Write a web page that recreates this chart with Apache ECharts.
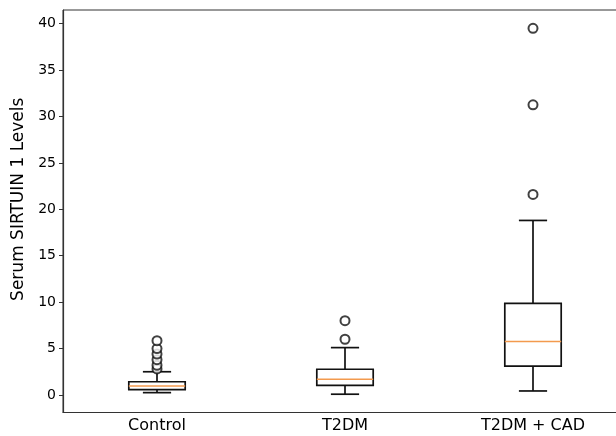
<!DOCTYPE html>
<html>
<head>
<meta charset="utf-8">
<style>html,body{margin:0;padding:0;background:#fff;}#chart{width:616px;height:436px;}</style>
<script src="https://cdn.jsdelivr.net/npm/echarts@6/dist/echarts.min.js"></script>
</head>
<body>
<div id="chart"></div>
<script>
const categories = ['Control', 'T2DM', 'T2DM + CAD'];
const whiskerLow = [0.25, 0.08, 0.43];
const q1 = [0.57, 1.04, 3.1];
const median = [0.97, 1.69, 5.75];
const q3 = [1.42, 2.77, 9.87];
const whiskerHigh = [2.5, 5.1, 18.8];
const outliersControl = [2.8, 3.2, 3.8, 4.4, 5.0, 5.85];
const outliersT2DM = [6.0, 8.0];
const outliersCAD = [21.6, 31.25, 39.5];
const yTicks = [0, 5, 10, 15, 20, 25, 30, 35, 40];

const boxData = categories.map((c, i) => [i, whiskerLow[i], q1[i], median[i], q3[i], whiskerHigh[i]]);
const outlierData = [];
[outliersControl, outliersT2DM, outliersCAD].forEach((arr, i) => arr.forEach(v => outlierData.push([i, v])));

const chart = echarts.init(document.getElementById('chart'), null, {renderer: 'canvas'});
const black = '#111';
chart.setOption({
  animation: false,
  grid: {left: 63, width: 564, top: 10, height: 402.5, show: true, borderColor: '#333', borderWidth: 1, backgroundColor: 'transparent', containLabel: false, outerBoundsMode: 'none'},
  xAxis: {
    type: 'category', data: categories, boundaryGap: true,
    axisLine: {onZero: false, lineStyle: {color: '#333', width: 1.2}},
    axisTick: {alignWithLabel: true, length: 4, lineStyle: {color: '#333'}},
    axisLabel: {color: '#000', fontFamily: 'DejaVu Sans', fontSize: 16, margin: 5}
  },
  yAxis: {
    type: 'value', min: -1.89, max: 41.47,
    name: 'Serum SIRTUIN 1 Levels', nameLocation: 'middle', nameGap: 35, nameRotate: 90,
    nameTextStyle: {color: '#000', fontFamily: 'DejaVu Sans', fontSize: 17, padding: [0, 0, 0, 24]},
    splitLine: {show: false},
    axisLine: {show: true, lineStyle: {color: '#333', width: 1.2}},
    axisTick: {show: true, length: 4, customValues: yTicks, lineStyle: {color: '#333'}},
    axisLabel: {color: '#000', fontFamily: 'DejaVu Sans', fontSize: 14, margin: 7, customValues: yTicks}
  },
  series: [
    {
      type: 'custom',
      data: boxData,
      encode: {x: 0, y: [1, 2, 3, 4, 5]},
      renderItem: function (params, api) {
        const x = api.value(0);
        const band = api.size([1, 0])[0];
        const hb = band * 0.15, hc = band * 0.075;
        const pLow = api.coord([x, api.value(1)]);
        const pQ1 = api.coord([x, api.value(2)]);
        const pMed = api.coord([x, api.value(3)]);
        const pQ3 = api.coord([x, api.value(4)]);
        const pHigh = api.coord([x, api.value(5)]);
        const cx = pMed[0];
        const ls = {stroke: black, lineWidth: 1.7, fill: null};
        return {
          type: 'group',
          children: [
            {type: 'line', shape: {x1: cx, y1: pQ3[1], x2: cx, y2: pHigh[1]}, style: ls},
            {type: 'line', shape: {x1: cx, y1: pQ1[1], x2: cx, y2: pLow[1]}, style: ls},
            {type: 'line', shape: {x1: cx - hc, y1: pHigh[1], x2: cx + hc, y2: pHigh[1]}, style: ls},
            {type: 'line', shape: {x1: cx - hc, y1: pLow[1], x2: cx + hc, y2: pLow[1]}, style: ls},
            {type: 'rect', shape: {x: cx - hb, y: pQ3[1], width: 2 * hb, height: pQ1[1] - pQ3[1]}, style: {stroke: black, lineWidth: 1.7, fill: '#fff'}},
            {type: 'line', shape: {x1: cx - hb, y1: pMed[1], x2: cx + hb, y2: pMed[1]}, style: {stroke: '#f39a4e', lineWidth: 1.5}}
          ]
        };
      }
    },
    {
      type: 'scatter',
      data: outlierData,
      symbol: 'circle', symbolSize: 9,
      itemStyle: {color: '#fff', borderColor: black, borderWidth: 2}
    }
  ]
});
</script>
</body>
</html>
